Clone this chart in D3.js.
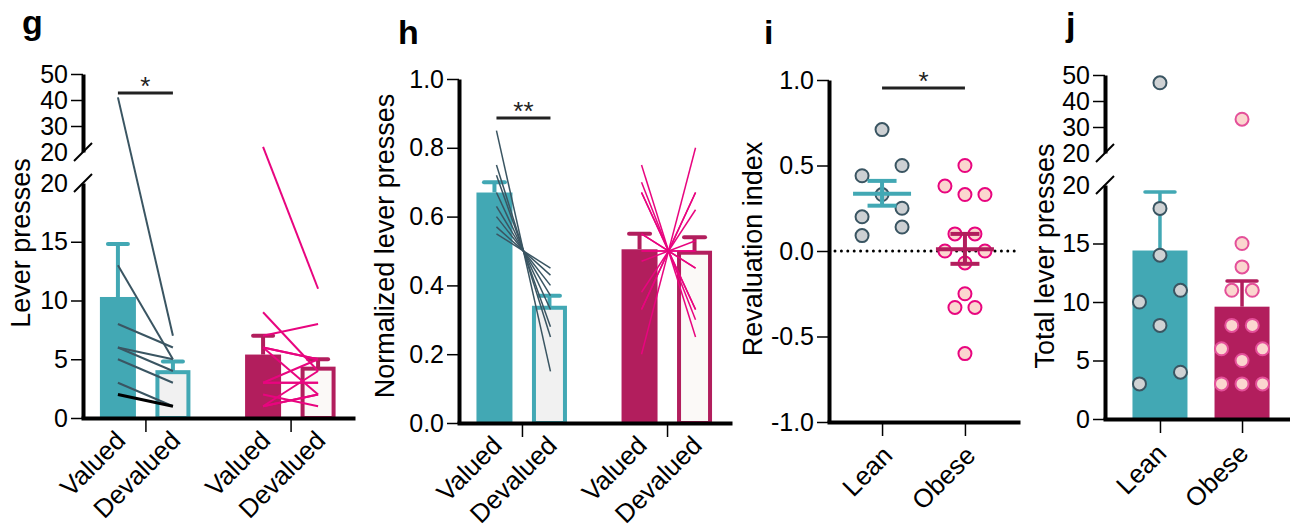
<!DOCTYPE html>
<html>
<head>
<meta charset="utf-8">
<script src="https://cdn.jsdelivr.net/npm/d3@7"></script>
<style>
  body { margin: 0; background: #fff; }
  svg { display: block; font-family: "Liberation Sans", Arial, Helvetica, sans-serif; }
</style>
</head>
<body>
<svg id="fig" width="1290" height="531"></svg>
<script>
const groups = ["Lean", "Obese"];
const conditions = ["Valued", "Devalued"];

// g: lever presses per rat (valued / devalued)
const leanValued = [41, 13, 8, 6, 6, 5, 3, 2];
const leanDevalued = [7, 5, 6, 5, 4, 3, 1, 1];
const obeseValued = [22, 9, 7, 6, 6, 6, 3, 3, 3, 2, 1, 1, 1];
const obeseDevalued = [11, 4, 8, 5, 5, 2, 5, 3, 3, 1, 2, 2, 4];
const pressMean = [10.3, 3.9, 5.4, 4.2];   // lean V, lean D, obese V, obese D
const pressErr = [14.8, 4.8, 7.0, 5.0];
const pressTicksLow = [0, 5, 10, 15, 20];
const pressTicksHigh = [20, 30, 40, 50];

// h: normalized lever presses
const normLeanValued = [0.85, 0.75, 0.72, 0.67, 0.63, 0.60, 0.57, 0.55];
const normLeanDevalued = [0.15, 0.25, 0.28, 0.33, 0.37, 0.40, 0.43, 0.45];
const normObeseValued = [0.75, 0.70, 0.67, 0.67, 0.55, 0.55, 0.50, 0.50, 0.47, 0.38, 0.33, 0.33, 0.20];
const normObeseDevalued = [0.25, 0.30, 0.33, 0.33, 0.45, 0.45, 0.50, 0.50, 0.53, 0.62, 0.67, 0.67, 0.80];
const normMean = [0.67, 0.335, 0.505, 0.495];
const normErr = [0.70, 0.37, 0.55, 0.54];
const normTicks = [0, 0.2, 0.4, 0.6, 0.8, 1.0];

// i: revaluation index
const leanIndex = [0.71, 0.50, 0.44, 0.33, 0.25, 0.20, 0.14, 0.09];
const obeseIndex = [0.50, 0.38, 0.33, 0.33, 0.10, 0.10, 0.0, 0.0, -0.07, -0.25, -0.33, -0.33, -0.60];
const indexMean = [0.335, 0.01];
const indexSem = [[0.265, 0.41], [-0.075, 0.10]];
const indexTicks = [-1, -0.5, 0, 0.5, 1];

// j: total lever presses
const leanTotal = [47, 18, 14, 11, 10, 8, 4, 3];
const obeseTotal = [33, 15, 13, 11, 11, 8, 8, 6, 6, 5, 3, 3, 3];
const totalMean = [14.4, 9.6];
const totalErr = [19.4, 11.8];
const totalTicksLow = [0, 5, 10, 15, 20];
const totalTicksHigh = [20, 30, 40, 50];

const TEAL = "#42a8b4", MAG = "#b21e5d", PINK = "#e8057f", SLATE = "#3a5562";
const groupColor = g => g === "Lean" ? TEAL : MAG;
const lightFill = g => g === "Lean" ? "#f1f1f1" : "#fbf9f7";

const svg = d3.select("#fig");

function styleAxis(a) {
  a.attr("font-family", null).attr("font-size", null);
  a.select(".domain").attr("stroke", "#000").attr("stroke-width", 4);
  a.selectAll(".tick line").attr("stroke", "#000").attr("stroke-width", 1.5);
  a.selectAll(".tick text").attr("fill", "#000").style("font-size", "25px");
  return a;
}

function yAxis(g, x, scale, ticks, fmt) {
  const a = g.append("g").attr("transform", `translate(${x},0)`)
    .call(d3.axisLeft(scale).tickValues(ticks).tickSize(12).tickSizeOuter(0).tickPadding(3).tickFormat(fmt || (d => d)));
  return styleAxis(a);
}

function brokenAxis(g, x, low, high, ticksLow, ticksHigh) {
  const a1 = yAxis(g, x, high, ticksHigh);
  const a2 = yAxis(g, x, low, ticksLow);
  [a1, a2].forEach(a => a.selectAll(".tick").filter(d => d === 20).select("line").remove());
  [high(20), low(20)].forEach(yy => {
    g.append("line")
      .attr("x1", x - 9).attr("y1", yy + 9)
      .attr("x2", x + 9).attr("y2", yy - 9)
      .attr("stroke", "#000").attr("stroke-width", 2);
  });
}

function xAxis(g, scale, y0) {
  const a = g.append("g").attr("transform", `translate(0,${y0})`)
    .call(d3.axisBottom(scale).tickSize(14).tickSizeOuter(0).tickFormat(""));
  styleAxis(a);
  a.select(".domain").attr("stroke-linecap", "square");
  return a;
}

function rotLabel(g, x, y, text) {
  g.append("text")
    .attr("transform", `translate(${x},${y}) rotate(-45)`)
    .attr("text-anchor", "end")
    .style("font-size", "26px")
    .text(text);
}

function yTitle(g, x, y, text) {
  g.append("text")
    .attr("transform", `translate(${x},${y}) rotate(-90)`)
    .attr("text-anchor", "middle")
    .style("font-size", "27px")
    .text(text);
}

function panelLetter(x, y, t) {
  svg.append("text").attr("x", x).attr("y", y)
    .style("font-size", "34px").style("font-weight", "bold").text(t);
}

function sigBar(g, x1, x2, y, label) {
  g.append("line").attr("x1", x1).attr("x2", x2).attr("y1", y).attr("y2", y)
    .attr("stroke", "#222").attr("stroke-width", 3);
  g.append("text").attr("x", (x1 + x2) / 2).attr("y", y + 2)
    .attr("text-anchor", "middle").style("font-size", "26px").attr("fill", "#222")
    .text(label);
}

// paired bars (valued filled, devalued open) with upward error bars
function pairedBars(g, means, errs, cx, y, y0, capW) {
  const bars = [];
  groups.forEach((gr, i) => conditions.forEach((c, j) =>
    bars.push({ gr: gr, c: c, mean: means[i * 2 + j], err: errs[i * 2 + j] })));

  g.selectAll("line.err").data(bars).enter().append("line")
    .attr("class", "err")
    .attr("x1", d => cx(d)).attr("x2", d => cx(d))
    .attr("y1", d => y(d.mean)).attr("y2", d => y(d.err))
    .attr("stroke", d => groupColor(d.gr)).attr("stroke-width", 4);
  g.selectAll("line.cap").data(bars).enter().append("line")
    .attr("class", "cap")
    .attr("x1", d => cx(d) - capW / 2).attr("x2", d => cx(d) + capW / 2)
    .attr("y1", d => y(d.err)).attr("y2", d => y(d.err))
    .attr("stroke", d => groupColor(d.gr)).attr("stroke-width", 4).attr("stroke-linecap", "round");

  g.selectAll("rect.bar").data(bars).enter().append("rect")
    .attr("class", "bar")
    .attr("x", d => d.c === "Valued" ? cx(d) - 18 : cx(d) - 15.5)
    .attr("width", d => d.c === "Valued" ? 36 : 31)
    .attr("y", d => y(d.mean))
    .attr("height", d => y0 - y(d.mean))
    .attr("fill", d => d.c === "Valued" ? groupColor(d.gr) : lightFill(d.gr))
    .attr("stroke", d => d.c === "Valued" ? "none" : groupColor(d.gr))
    .attr("stroke-width", 4);
}

function pairLines(g, vals, devs, x1, x2, y, color, width) {
  g.selectAll(null).data(d3.zip(vals, devs)).enter().append("line")
    .attr("x1", x1).attr("x2", x2)
    .attr("y1", d => y(d[0])).attr("y2", d => y(d[1]))
    .attr("stroke", color).attr("stroke-width", width);
}

// rows of nearly equal values are spread sideways, like a column scatter
function swarm(values, y, step, tol) {
  const sorted = values.slice().sort((a, b) => b - a);
  const rows = [];
  sorted.forEach(v => {
    const last = rows[rows.length - 1];
    if (last && Math.abs(y(last[0]) - y(v)) < tol) last.push(v);
    else rows.push([v]);
  });
  const out = [];
  rows.forEach(r => {
    if (r.length === 1) out.push({ v: r[0], dx: 0 });
    else if (r.length === 2) {
      const w = r[0] === r[1] ? step / 2 : step;
      out.push({ v: r[1], dx: -w }, { v: r[0], dx: w });
    } else {
      out.push({ v: r[0], dx: -step }, { v: r[2], dx: 0 }, { v: r[1], dx: step });
    }
  });
  return out;
}

function dots(g, pts, cx, y, fill, stroke) {
  g.selectAll(null).data(pts).enter().append("circle")
    .attr("cx", d => cx + d.dx).attr("cy", d => y(d.v)).attr("r", 6.5)
    .attr("fill", fill).attr("stroke", stroke).attr("stroke-width", 2);
}

// ---------------- panel g ----------------
(function () {
  const g = svg.append("g");
  const x = d3.scalePoint().domain(groups).range([83, 353]).padding(0.43);
  const xc = d3.scalePoint().domain(conditions).range([-27.5, 27.5]);
  const low = d3.scaleLinear().domain([0, 20]).range([418, 183]);
  const high = d3.scaleLinear().domain([20, 50]).range([152, 74]);
  const y = v => v <= 20 ? low(v) : high(v);
  const cx = d => x(d.gr) + xc(d.c);

  pairedBars(g, pressMean, pressErr, cx, y, low(0), 20);

  const lv = x("Lean") + xc("Valued"), ld = x("Lean") + xc("Devalued");
  pairLines(g, leanValued.slice(0, -1), leanDevalued.slice(0, -1), lv, ld, y, SLATE, 2);
  pairLines(g, leanValued.slice(-1), leanDevalued.slice(-1), lv, ld, y, "#000", 3);
  const ov = x("Obese") + xc("Valued"), od = x("Obese") + xc("Devalued");
  pairLines(g, obeseValued, obeseDevalued, ov, od, y, PINK, 2);

  brokenAxis(g, 83, low, high, pressTicksLow, pressTicksHigh);
  xAxis(g, x, low(0));
  groups.forEach(gr => conditions.forEach(c => rotLabel(g, x(gr) + xc(c) + 9, 442, c)));
  yTitle(g, 30, 243, "Lever presses");
  sigBar(g, lv, ld, 93, "*");
  panelLetter(22, 34, "g");
})();

// ---------------- panel h ----------------
(function () {
  const g = svg.append("g");
  const x = d3.scalePoint().domain(groups).range([459, 730]).padding(0.434);
  const xc = d3.scalePoint().domain(conditions).range([-27.5, 27.5]);
  const y = d3.scaleLinear().domain([0, 1]).range([423, 79]);
  const cx = d => x(d.gr) + xc(d.c);

  pairedBars(g, normMean, normErr, cx, y, y(0), 21);

  const lv = x("Lean") + xc("Valued") + 2, ld = x("Lean") + xc("Devalued") + 1;
  pairLines(g, normLeanValued, normLeanDevalued, lv, ld, y, SLATE, 1.5);
  const ov = x("Obese") + xc("Valued") + 2, od = x("Obese") + xc("Devalued") + 1;
  pairLines(g, normObeseValued, normObeseDevalued, ov, od, y, PINK, 1.5);

  yAxis(g, 459, y, normTicks, d => d.toFixed(1));
  xAxis(g, x, y(0));
  groups.forEach(gr => conditions.forEach(c => rotLabel(g, x(gr) + xc(c) + 9, 447, c)));
  yTitle(g, 394, 246, "Normalized lever presses");
  sigBar(g, lv, ld, 118, "**");
  panelLetter(398, 44, "h");
})();

// ---------------- panel i ----------------
(function () {
  const g = svg.append("g");
  const x = d3.scalePoint().domain(groups).range([829, 1018]).padding(0.64);
  const y = d3.scaleLinear().domain([-1, 1]).range([422, 80]);

  g.append("line").attr("x1", 835).attr("x2", 1020).attr("y1", y(0)).attr("y2", y(0))
    .attr("stroke", "#000").attr("stroke-width", 3)
    .attr("stroke-dasharray", "0,6.4").attr("stroke-linecap", "round");

  dots(g, swarm(leanIndex, y, 20, 12.5), x("Lean"), y, "#cdd0d3", SLATE);
  dots(g, swarm(obeseIndex, y, 20, 12.5), x("Obese"), y, "#fbd6cf", PINK);

  groups.forEach((gr, i) => {
    const c = x(gr), col = groupColor(gr);
    const seg = (x1, x2, y1, y2) => g.append("line")
      .attr("x1", x1).attr("x2", x2).attr("y1", y1).attr("y2", y2)
      .attr("stroke", col).attr("stroke-width", 4);
    seg(c, c, y(indexSem[i][0]), y(indexSem[i][1]));
    seg(c - 29, c + 29, y(indexMean[i]), y(indexMean[i]));
    seg(c - 14.5, c + 14.5, y(indexSem[i][0]), y(indexSem[i][0]));
    seg(c - 14.5, c + 14.5, y(indexSem[i][1]), y(indexSem[i][1]));
  });

  yAxis(g, 829, y, indexTicks, d => d.toFixed(1));
  xAxis(g, x, y(-1));
  groups.forEach(gr => rotLabel(g, x(gr) + 12, 457, gr));
  yTitle(g, 762, 249, "Revaluation index");
  sigBar(g, x("Lean"), x("Obese"), 88, "*");
  panelLetter(764, 44, "i");
})();

// ---------------- panel j ----------------
(function () {
  const g = svg.append("g");
  const x = d3.scalePoint().domain(groups).range([1105, 1297]).padding(0.67);
  const low = d3.scaleLinear().domain([0, 20]).range([419, 185]);
  const high = d3.scaleLinear().domain([20, 50]).range([153, 75]);
  const y = v => v <= 20 ? low(v) : high(v);

  groups.forEach((gr, i) => {
    const c = x(gr), col = groupColor(gr);
    g.append("line").attr("x1", c).attr("x2", c)
      .attr("y1", y(totalMean[i])).attr("y2", y(totalErr[i]))
      .attr("stroke", col).attr("stroke-width", 3.5);
    g.append("line").attr("x1", c - 15).attr("x2", c + 15)
      .attr("y1", y(totalErr[i])).attr("y2", y(totalErr[i]))
      .attr("stroke", col).attr("stroke-width", 3.5).attr("stroke-linecap", "round");
    g.append("rect").attr("x", c - 27.5).attr("width", 55)
      .attr("y", y(totalMean[i])).attr("height", low(0) - y(totalMean[i]))
      .attr("fill", col);
  });

  dots(g, swarm(leanTotal, y, 20.5, 12.5), x("Lean"), y, "#cfd2d4", SLATE);
  dots(g, swarm(obeseTotal, y, 20.5, 12.5), x("Obese"), y, "#fbd6cf", "#e4509a");

  brokenAxis(g, 1105, low, high, totalTicksLow, totalTicksHigh);
  xAxis(g, x, low(0));
  groups.forEach(gr => rotLabel(g, x(gr) + 8, 455, gr));
  yTitle(g, 1054, 256, "Total lever presses");
  panelLetter(1066, 36, "j");
})();
</script>
</body>
</html>
